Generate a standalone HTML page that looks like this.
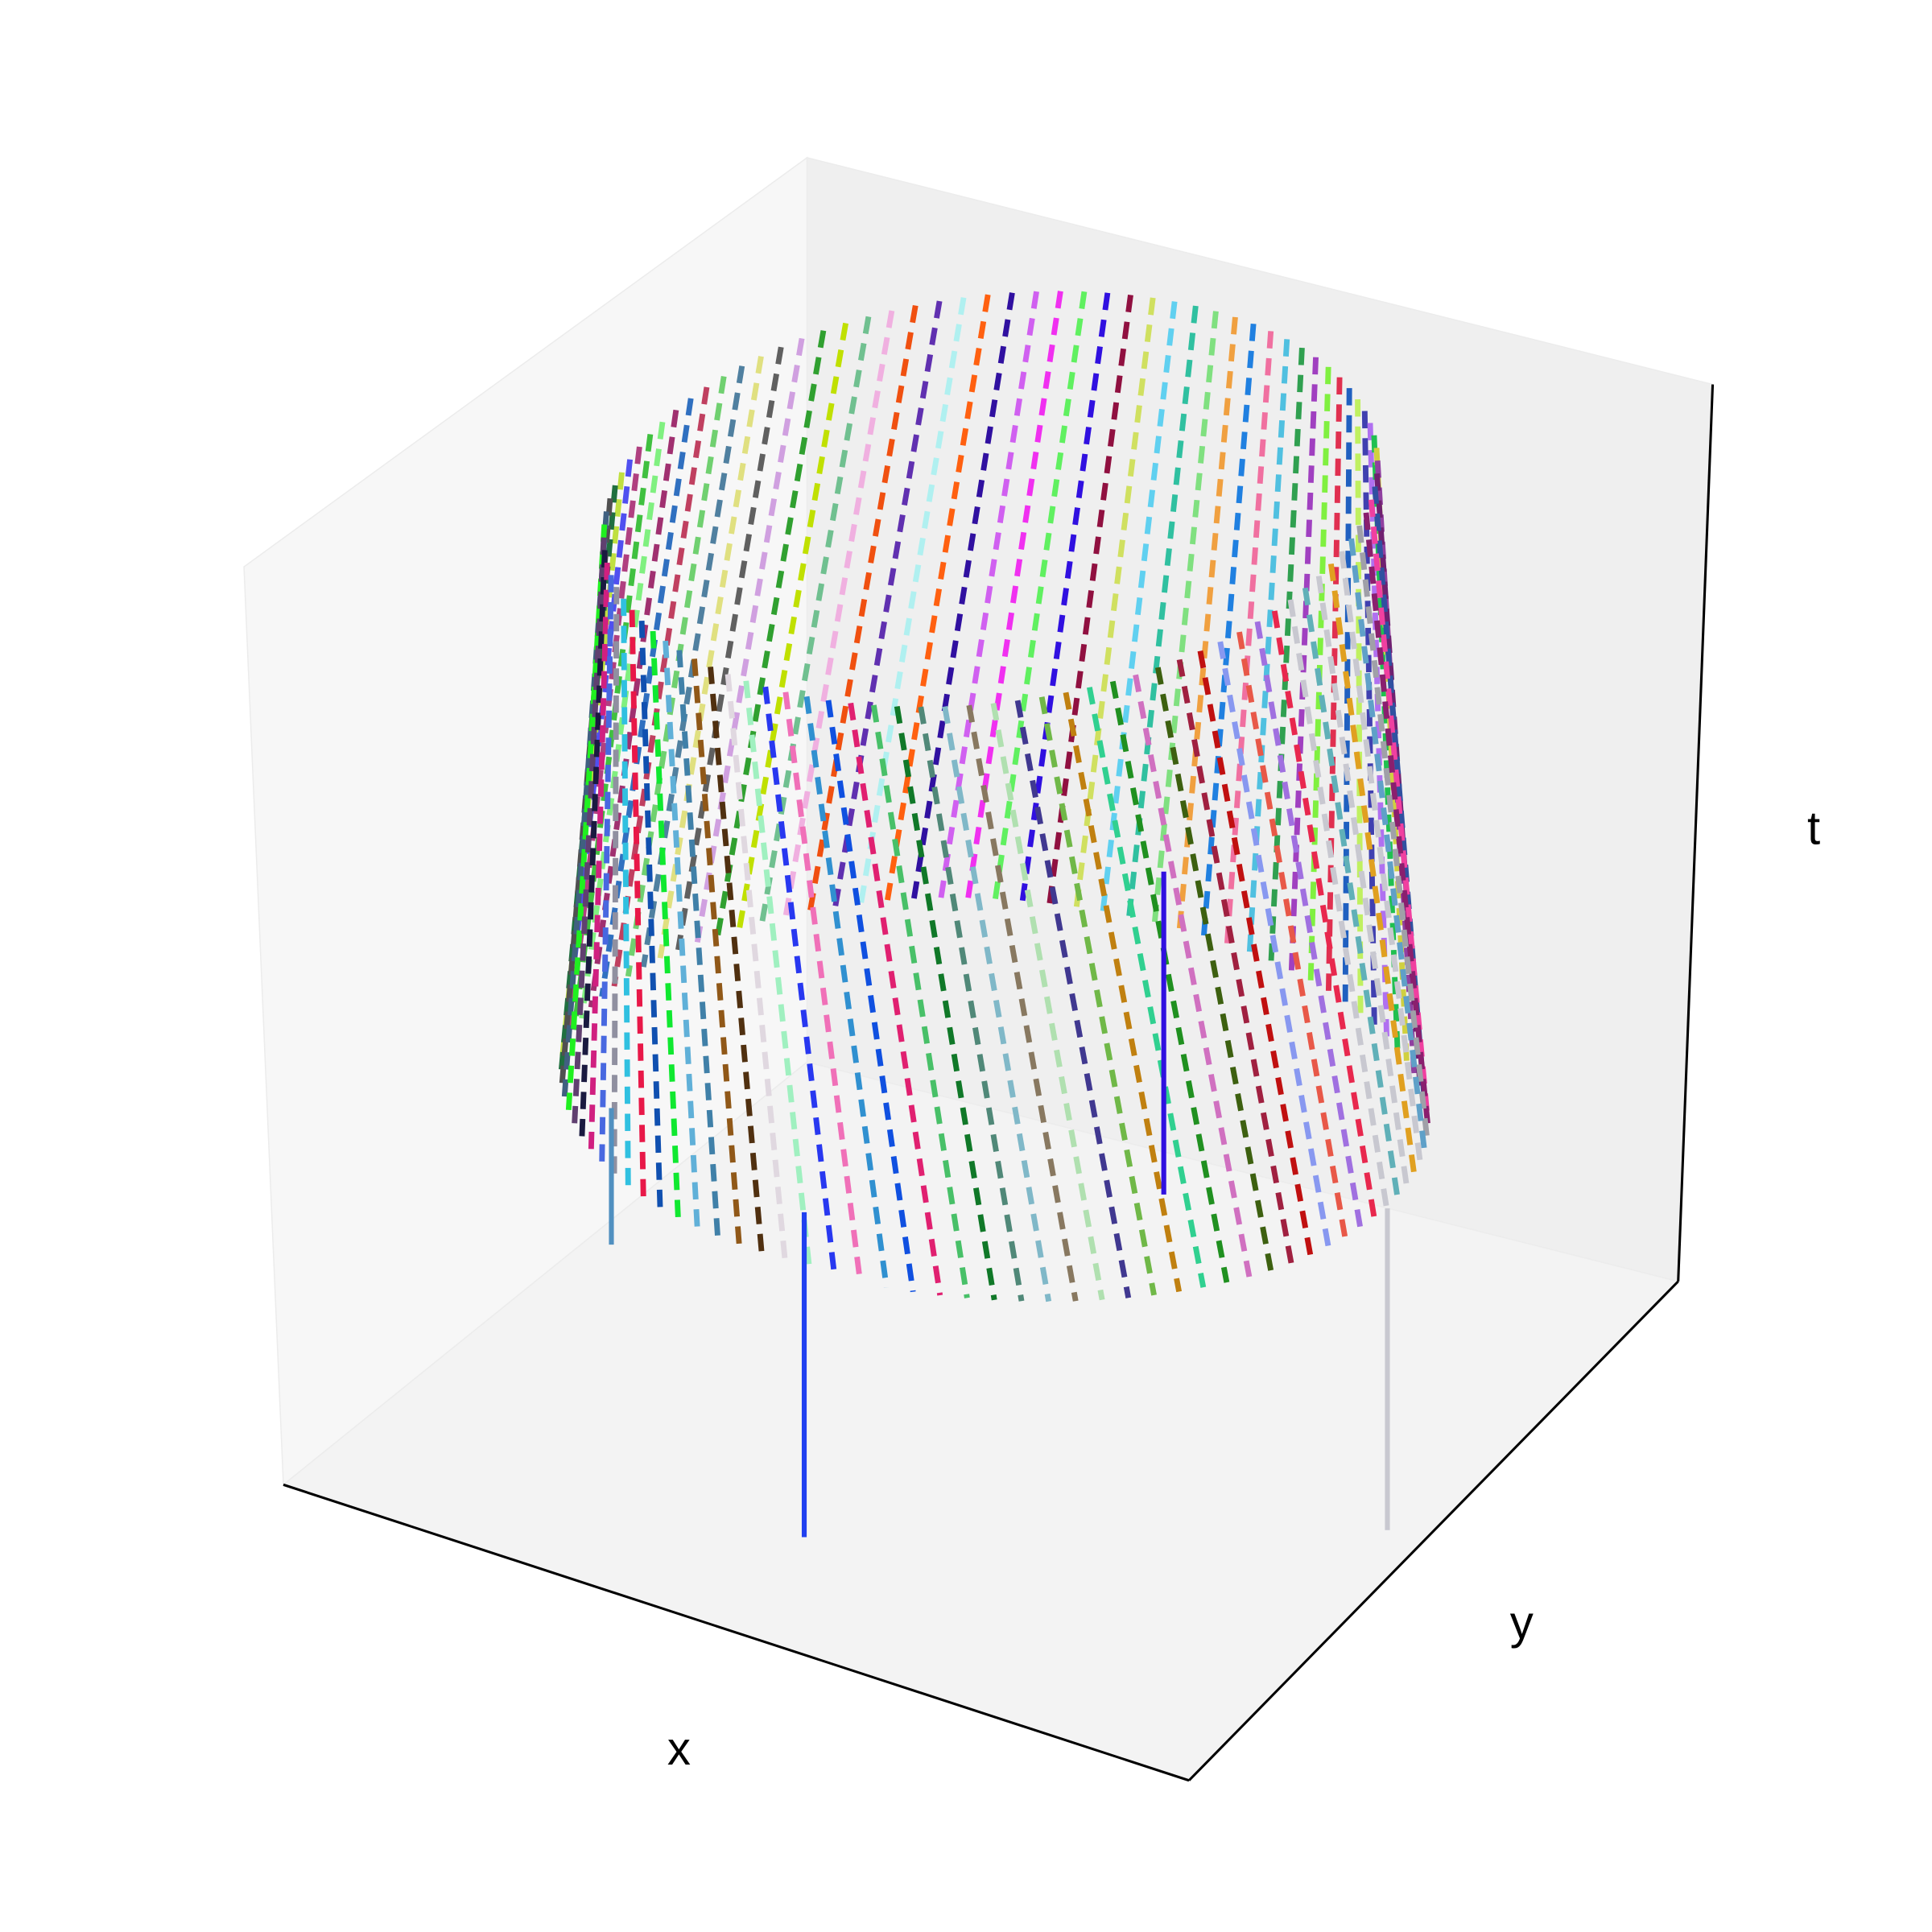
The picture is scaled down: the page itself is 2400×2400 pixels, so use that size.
<!DOCTYPE html>
<html><head><meta charset="utf-8">
<style>
html,body{margin:0;padding:0;background:#fff;}
svg{display:block;}
text{font-family:"Liberation Sans","DejaVu Sans",sans-serif;}
</style></head>
<body>
<svg id="chart" width="2400" height="2400" viewBox="0 0 1568 1568" xmlns="http://www.w3.org/2000/svg">
  <rect x="0" y="0" width="1568" height="1568" fill="#ffffff"/>
  <polygon points="198,460 655,128 655,862 230,1205" fill="#f7f7f7" stroke="#ececec" stroke-width="1"/>
  <polygon points="655,128 1390,312 1362,1040 655,862" fill="#efefef" stroke="#ececec" stroke-width="1"/>
  <polygon points="230,1205 655,862 1362,1040 965,1445" fill="#f3f3f3" stroke="#ececec" stroke-width="1"/>
  <g id="lines"></g>
  <line x1="230" y1="1205" x2="965" y2="1445" stroke="#000" stroke-width="2"/>
  <line x1="965" y1="1445" x2="1362" y2="1040" stroke="#000" stroke-width="2"/>
  <line x1="1362" y1="1040" x2="1390" y2="312" stroke="#000" stroke-width="2"/>
  <text x="551" y="1432" font-size="38" text-anchor="middle">x</text>
  <text x="1235" y="1330" font-size="38" text-anchor="middle">y</text>
  <text x="1472" y="685" font-size="38" text-anchor="middle">t</text>
</svg>
<script>
const angles = [0,3.6,7.2,10.8,14.4,18,21.6,25.2,28.8,32.4,36,39.6,43.2,46.8,50.4,54,57.6,61.2,64.8,68.4,72,75.6,79.2,82.8,86.4,90,93.6,97.2,100.8,104.4,108,111.6,115.2,118.8,122.4,126,129.6,133.2,136.8,140.4,144,147.6,151.2,154.8,158.4,162,165.6,169.2,172.8,176.4,180,183.6,187.2,190.8,194.4,198,201.6,205.2,208.8,212.4,216,219.6,223.2,226.8,230.4,234,237.6,241.2,244.8,248.4,252,255.6,259.2,262.8,266.4,270,273.6,277.2,280.8,284.4,288,291.6,295.2,298.8,302.4,306,309.6,313.2,316.8,320.4,324,327.6,331.2,334.8,338.4,342,345.6,349.2,352.8,356.4];
const tTop = [1,1,1,1,1,1,1,1,1,1,1,1,1,1,1,1,1,1,1,1,1,1,1,1,1,1,1,1,1,1,1,1,1,1,1,1,1,1,1,1,1,1,1,1,1,1,1,1,1,1,1,1,1,1,1,1,1,1,1,1,1,1,1,1,1,1,1,1,1,1,1,1,1,1,1,1,1,1,1,1,1,1,1,1,1,1,1,1,1,1,1,1,1,1,1,1,1,1,1,1];
const tBottom = [0,0,0,0,0,0,0,0,0,0,0,0,0,0,0,0,0,0,0,0,0,0,0,0,0,0,0,0,0,0,0,0,0,0,0,0,0,0,0,0,0,0,0,0,0,0,0,0,0,0,0,0,0,0,0,0,0,0,0,0,0,0,0,0,0,0,0,0,0,0,0,0,0,0,0,0,0,0,0,0,0,0,0,0,0,0,0,0,0,0,0,0,0,0,0,0,0,0,0,0];
const twistDeg = 14;
const colors = ["#8a1f6e","#a0a0a8","#5fa0c8","#c8c8d0","#e0a020","#c8c8d0","#60b0b8","#c8c8d0","#e8284e","#a070e0","#e85848","#8898f0","#c01010","#a02040","#3d6010","#d070c0","#209020","#30d090","#c08010","#70b848","#403890","#b0e0b0","#887860","#80b8c8","#508878","#107828","#48c068","#e02070","#1050e0","#3090d0","#f070b8","#2838f0","#a0f0c0","#e0d8e0","#503010","#905818","#4080a8","#60b0d8","#10e830","#1050b0","#e81848","#30c0e0","#9090a0","#4868e0","#d02080","#1a1a40","#604070","#20f020","#406080","#505050","#207040","#c0e040","#5050f0","#b04080","#40c040","#80f080","#a03070","#3070c0","#c04060","#70d070","#5080a0","#e0e080","#606060","#d0a0e0","#30a030","#c0e000","#70c090","#f0b0e0","#f05010","#6030b0","#b0f0f0","#ff6010","#3010a0","#d060f0","#f030f0","#60f060","#3010e0","#901040","#d0e060","#60d0f0","#30c0a0","#80e080","#f0a040","#2080e0","#f070a0","#50c0e0","#30a050","#a040c0","#80f040","#e03050","#2060c0","#c0f060","#4040b0","#b070f0","#20c050","#d0d040","#9040a0","#702070","#3050a0","#f040a0"];
// solid vertical stems
const stemAngles = [116,25,152,67];
const stemTop = [0.1,0.0,0.12,0.68];
const stemBottom = [-0.47,-0.49,-0.13,0.16];
const stemColors = ["#2040f0","#c8c8d0","#5090c0","#3010e0"];

const svgNS = "http://www.w3.org/2000/svg";
const g = document.getElementById("lines");
function ell(theta, top) {
  const r = theta * Math.PI / 180;
  const c = Math.cos(r), s = Math.sin(r);
  if (top) return [804 + 314 * c, 405 + 166 * s - 30 * c];
  return [807 + 352 * c, 895 + 160 * s + 20 * c];
}
function proj(theta, t) {
  const T = ell(theta + twistDeg, true), B = ell(theta, false);
  return [B[0] + (T[0] - B[0]) * t, B[1] + (T[1] - B[1]) * t];
}
function stemPt(theta, t) {
  const T = ell(theta, true), B = ell(theta, false);
  return [B[0], B[1] + (T[1] - B[1]) * t];
}
const order = angles.map((a, i) => i).sort((i, j) => Math.sin(angles[i] * Math.PI / 180) - Math.sin(angles[j] * Math.PI / 180));
order.forEach(i => {
  const p1 = proj(angles[i], tTop[i]);
  const p2 = proj(angles[i], tBottom[i]);
  const ln = document.createElementNS(svgNS, "line");
  ln.setAttribute("x1", p1[0].toFixed(1));
  ln.setAttribute("y1", p1[1].toFixed(1));
  ln.setAttribute("x2", p2[0].toFixed(1));
  ln.setAttribute("y2", p2[1].toFixed(1));
  ln.setAttribute("stroke", colors[i]);
  ln.setAttribute("stroke-width", "4.5");
  ln.setAttribute("stroke-dasharray", "14 8");
  
  
  g.appendChild(ln);
});
stemAngles.forEach((a, i) => {
  const p1 = stemPt(a, stemTop[i]);
  const p2 = stemPt(a, stemBottom[i]);
  const ln = document.createElementNS(svgNS, "line");
  ln.setAttribute("x1", p1[0].toFixed(1));
  ln.setAttribute("y1", p1[1].toFixed(1));
  ln.setAttribute("x2", p2[0].toFixed(1));
  ln.setAttribute("y2", p2[1].toFixed(1));
  ln.setAttribute("stroke", stemColors[i]);
  ln.setAttribute("stroke-width", "4");
  
  
  g.appendChild(ln);
});
</script>
</body></html>
